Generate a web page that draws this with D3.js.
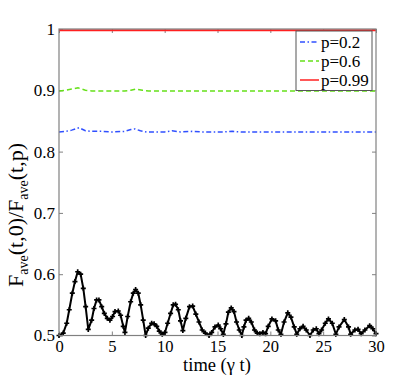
<!DOCTYPE html>
<html><head><meta charset="utf-8">
<script src="https://cdn.jsdelivr.net/npm/d3@7"></script>
<style>body{margin:0;background:#fff}svg{display:block}svg text{font-family:"Liberation Serif","DejaVu Serif",serif}</style>
</head><body>
<svg id="c" width="415" height="378"></svg>
<script>
const xTicks = [0,5,10,15,20,25,30];
const yTicks = [0.5,0.6,0.7,0.8,0.9,1];
const yTickLabels = ["0.5","0.6","0.7","0.8","0.9","1"];
const legendLabels = ["p=0.2","p=0.6","p=0.99"];

const tBlack = [0,0.4,0.73,0.97,1.26,1.51,1.77,2.05,2.3,2.52,2.77,3.09,3.31,3.56,3.78,4.04,4.29,4.57,4.82,5.07,5.3,5.61,5.83,6.08,6.24,6.5,6.78,7.03,7.25,7.5,7.73,7.97,8.2,8.45,8.77,9.0,9.25,9.49,9.77,10.03,10.28,10.56,10.81,11.03,11.29,11.5,11.72,12.0,12.35,12.65,12.95,13.25,13.55,13.85,14.2,14.45,14.76,15.07,15.3,15.55,15.8,16.03,16.3,16.56,16.8,17.06,17.3,17.5,17.7,17.95,18.2,18.5,18.76,19.0,19.3,19.55,19.8,20.15,20.5,20.75,21.0,21.3,21.65,21.95,22.26,22.5,22.8,23.1,23.4,23.75,24.06,24.35,24.6,24.85,25.2,25.5,25.86,26.2,26.5,27.0,27.4,27.6,28.0,28.3,28.6,28.95,29.4,29.7,30];
const vBlack = [0.5,0.504,0.52,0.542,0.569,0.588,0.604,0.600,0.577,0.547,0.510,0.525,0.544,0.558,0.558,0.547,0.536,0.528,0.525,0.531,0.539,0.540,0.533,0.515,0.505,0.531,0.555,0.569,0.575,0.569,0.55,0.525,0.5,0.512,0.52,0.519,0.515,0.507,0.502,0.505,0.52,0.536,0.55,0.551,0.542,0.524,0.508,0.528,0.547,0.548,0.535,0.522,0.509,0.504,0.5,0.505,0.514,0.517,0.511,0.502,0.519,0.538,0.545,0.539,0.522,0.509,0.5,0.514,0.525,0.528,0.522,0.509,0.504,0.503,0.505,0.503,0.515,0.527,0.524,0.509,0.502,0.522,0.537,0.530,0.514,0.502,0.511,0.515,0.509,0.5,0.509,0.511,0.503,0.509,0.52,0.527,0.52,0.502,0.514,0.526,0.514,0.502,0.509,0.51,0.503,0.509,0.516,0.511,0.503];

const tBlue = [0,0.6,1.2,1.9,2.5,3.1,4,5,6.2,6.8,7.2,7.7,8.3,9,10,10.7,11.5,12.6,13.5,14.5,15.5,16.4,17.3,18,19,20,21,22,23,24,25,26,27,28,29,30];
const vBlue = [0.832,0.833,0.835,0.839,0.834,0.833,0.833,0.832,0.833,0.836,0.837,0.834,0.832,0.832,0.832,0.834,0.832,0.833,0.832,0.832,0.832,0.833,0.832,0.832,0.832,0.832,0.832,0.832,0.832,0.832,0.832,0.832,0.832,0.832,0.832,0.832];
const tGreen = [0,0.6,1.2,1.8,2.5,3.1,4,5,6.2,6.8,7.3,7.9,8.5,9.5,10.5,11.5,12.5,13.5,14.5,15.5,16.5,17.5,18.5,19.5,20.5,21.5,22.5,23.5,24.5,25.5,26.5,27.5,28.5,29.5,30];
const vGreen = [0.899,0.900,0.902,0.904,0.900,0.899,0.899,0.899,0.899,0.900,0.902,0.900,0.899,0.899,0.899,0.899,0.899,0.899,0.899,0.899,0.899,0.899,0.899,0.899,0.899,0.899,0.899,0.899,0.899,0.899,0.899,0.899,0.899,0.899,0.899];
const tRed = [0,30];
const vRed = [0.998,0.998];

const svg = d3.select("#c");
const L=59,R=376,T=29,B=335.5;
const x = d3.scaleLinear().domain([0,30]).range([L,R]);
const y = d3.scaleLinear().domain([0.5,1]).range([B,T]);
const axisCol = "#808080";

function styleAxis(g){
  g.attr("font-family",null);
  g.select(".domain").remove();
  g.selectAll(".tick line").attr("stroke",axisCol).attr("stroke-width",1);
  g.selectAll("text").attr("fill","#000");
}
svg.append("g").attr("transform",`translate(0,${B})`)
  .call(d3.axisBottom(x).tickValues(xTicks).tickSize(-4).tickPadding(4).tickFormat(d3.format("d")))
  .call(styleAxis).call(g=>g.selectAll("text").attr("font-size",16.5).attr("dy","0.74em"));
svg.append("g").attr("transform",`translate(0,${T})`)
  .call(d3.axisTop(x).tickValues(xTicks).tickSize(-4).tickFormat(""))
  .call(styleAxis);
svg.append("g").attr("transform",`translate(${L},0)`)
  .call(d3.axisLeft(y).tickValues(yTicks).tickSize(-4).tickPadding(4).tickFormat((d,i)=>yTickLabels[i]))
  .call(styleAxis).call(g=>g.selectAll("text").attr("font-size",17));
svg.append("g").attr("transform",`translate(${R},0)`)
  .call(d3.axisRight(y).tickValues(yTicks).tickSize(-4).tickFormat(""))
  .call(styleAxis);

const line = d3.line().x(d=>x(d[0])).y(d=>y(d[1]));
const zip=(a,b)=>a.map((t,i)=>[t,b[i]]);

svg.append("path").datum(zip(tBlue,vBlue)).attr("d",line).attr("fill","none")
  .attr("stroke","#3050ff").attr("stroke-width",1.5).attr("stroke-dasharray","5,2.5,1.5,2.5");
svg.append("path").datum(zip(tGreen,vGreen)).attr("d",line).attr("fill","none")
  .attr("stroke","#66e01a").attr("stroke-width",1.5).attr("stroke-dasharray","5,3");
svg.append("path").datum(zip(tRed,vRed)).attr("d",line).attr("fill","none")
  .attr("stroke","#ff2020").attr("stroke-width",1.8);

const blk = zip(tBlack,vBlack);
svg.append("path").datum(blk).attr("d",line).attr("fill","none")
  .attr("stroke","#000").attr("stroke-width",2);
const star = d3.symbol().type(d3.symbolCross).size(14);
svg.append("g").selectAll("path").data(blk).join("path")
  .attr("transform",d=>`translate(${x(d[0])},${y(d[1])})`)
  .attr("d",star).attr("fill","#000");

svg.append("rect").attr("x",L).attr("y",T).attr("width",R-L).attr("height",B-T)
  .attr("fill","none").attr("stroke",axisCol).attr("stroke-width",1.2);

const lg = svg.append("g");
lg.append("rect").attr("x",296).attr("y",31).attr("width",76).attr("height",59.5)
  .attr("fill","#fff").attr("stroke","#555").attr("stroke-width",1);
const legStyles = [
  {c:"#3050ff",d:"5,2.5,1.5,2.5"},
  {c:"#66e01a",d:"5,3"},
  {c:"#ff2020",d:null}
];
legendLabels.forEach((lab,i)=>{
  const yy = 42 + i*19;
  lg.append("line").attr("x1",300).attr("x2",319).attr("y1",yy).attr("y2",yy)
    .attr("stroke",legStyles[i].c).attr("stroke-width",1.5)
    .attr("stroke-dasharray",legStyles[i].d);
  lg.append("text").attr("x",321).attr("y",yy+6)
    .attr("font-size",17).text(lab);
});

svg.append("text").attr("x",217).attr("y",371).attr("text-anchor","middle")
  .attr("font-size",18.5).text("time (γ t)");

const yl = svg.append("text").attr("transform","translate(23,215) rotate(-90)")
  .attr("text-anchor","middle").attr("font-size",22);
yl.append("tspan").text("F");
yl.append("tspan").attr("font-size",14).attr("dy",5).text("ave");
yl.append("tspan").attr("dy",-5).text("(t,0)/F");
yl.append("tspan").attr("font-size",14).attr("dy",5).text("ave");
yl.append("tspan").attr("dy",-5).text("(t,p)");
</script>
</body></html>
